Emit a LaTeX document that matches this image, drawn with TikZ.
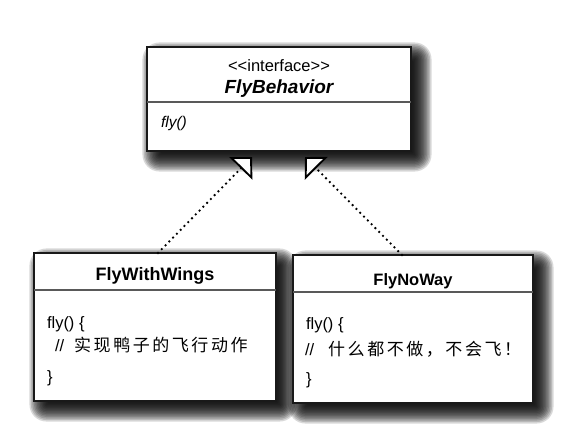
\documentclass[tikz,border=0pt]{standalone}
\usepackage{fontspec}
\setmainfont{Liberation Sans}
\newfontfamily\cjk[LetterSpace=15]{Noto Sans CJK SC}
\usetikzlibrary{arrows.meta}
\pgfdeclarelayer{bg}
\pgfsetlayers{bg,main}
\tikzset{
  umlbox/.style={draw=black!90, line width=1.1pt, fill=white, rectangle, inner sep=0pt},
  divider/.style={draw=black!65, line width=1.6pt},
  realize/.style={line width=2.6pt, line cap=round, dash pattern=on 0pt off 5.4pt,
    -{Triangle[open, fill=white, length=16pt, width=32pt, line width=1.9pt, line cap=butt, line join=miter]}},
  txt/.style={inner sep=0pt, outer sep=0pt, text=black},
  shadowlayer/.style={fill=black, opacity=0.15},
}
\begin{document}
\begin{tikzpicture}[x=1pt,y=-1pt]
\useasboundingbox (0,0) rectangle (568,436);
% boxes
\node[umlbox, minimum width=264pt, minimum height=104pt] (top) at (279,99) {};
\node[umlbox, minimum width=242pt, minimum height=148pt] (lbox) at (155,327) {};
\node[umlbox, minimum width=240pt, minimum height=148pt] (rbox) at (413,329) {};
% background and shadows
\begin{pgfonlayer}{bg}
\fill[white] (0,0) rectangle (568,436);
\foreach \n in {top,lbox,rbox}{
  \foreach \e in {12,10.5,...,-6}{
    \pgfmathsetmacro\rr{max(\e+5,1)}
    \fill[shadowlayer, rounded corners=\rr pt]
      ([shift={(8-\e,8-\e)}]\n.north west) rectangle ([shift={(8+\e,8+\e)}]\n.south east);
  }
}
\end{pgfonlayer}
% dividers
\draw[divider] ([xshift=0.6pt]top.west |- 0,102) coordinate (td1) -- ([xshift=-0.6pt]top.east |- 0,102) coordinate (td2);
\draw[divider] ([xshift=0.6pt]lbox.west |- 0,290) coordinate (ld1) -- ([xshift=-0.6pt]lbox.east |- 0,290) coordinate (ld2);
\draw[divider] ([xshift=0.6pt]rbox.west |- 0,292) coordinate (rd1) -- ([xshift=-0.6pt]rbox.east |- 0,292) coordinate (rd2);
% top texts
\node[txt, anchor=base] (stereo) at (279,71) {\fontsize{16.5}{18}\selectfont <{}<interface>{}>};
\node[txt, anchor=base] (tname) at (279,93) {\fontsize{19}{21}\selectfont\bfseries\itshape FlyBehavior};
\node[txt, anchor=base west] (tfly) at (161,127) {\fontsize{15.5}{18}\selectfont\itshape fly()};
% left texts
\node[txt, anchor=base] (lname) at (155,280) {\fontsize{18}{20}\selectfont\bfseries FlyWithWings};
\node[txt, anchor=base west] (l1) at (47,328) {\fontsize{16.5}{18}\selectfont fly() \{};
\node[txt, anchor=base west] (l2) at (55,351) {\fontsize{16.5}{18}\selectfont //\hspace{10pt}{\fontsize{17}{18}\selectfont\cjk 实现鸭子的飞行动作}};
\node[txt, anchor=base west] (l3) at (47,382) {\fontsize{16.5}{18}\selectfont \}};
% right texts
\node[txt, anchor=base] (rname) at (413,285) {\fontsize{16.5}{20}\selectfont\bfseries FlyNoWay};
\node[txt, anchor=base west] (r1) at (306,329) {\fontsize{16.5}{18}\selectfont fly() \{};
\node[txt, anchor=base west] (r2) at (305,355) {\fontsize{16.5}{18}\selectfont //\hspace{14pt}{\fontsize{17}{18}\selectfont\cjk 什么都不做，不会飞！}};
\node[txt, anchor=base west] (r3) at (306,384) {\fontsize{16.5}{18}\selectfont \}};
% connectors
\coordinate (lapex) at (252,157);
\coordinate (rapex) at (305,157);
\coordinate (lstart) at (158,253);
\coordinate (rstart) at (402,255);
\draw[realize] (lstart) -- (lapex);
\draw[realize] (rstart) -- (rapex);
\end{tikzpicture}
\end{document}
